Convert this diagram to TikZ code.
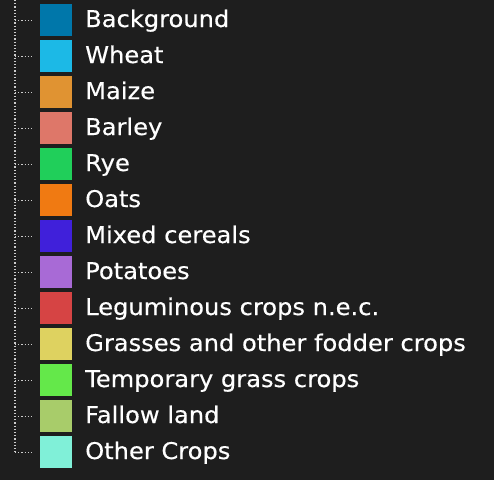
\documentclass[tikz,border=0pt]{standalone}
\usepackage{fontspec}
\setmainfont{DejaVu Sans}[FakeStretch=1.05,FakeBold=0.4]
\definecolor{bgc}{HTML}{1E1E1E}
\definecolor{c1}{HTML}{0077AA}
\definecolor{c2}{HTML}{1CB9E6}
\definecolor{c3}{HTML}{E09332}
\definecolor{c4}{HTML}{DE7769}
\definecolor{c5}{HTML}{20CF5A}
\definecolor{c6}{HTML}{F07A12}
\definecolor{c7}{HTML}{4020DA}
\definecolor{c8}{HTML}{A86AD6}
\definecolor{c9}{HTML}{D64444}
\definecolor{c10}{HTML}{DED260}
\definecolor{c11}{HTML}{64E84A}
\definecolor{c12}{HTML}{A8CC6A}
\definecolor{c13}{HTML}{80F0D8}
\tikzset{
  x=1pt,y=1pt,
  swatch/.style={minimum width=32pt,minimum height=32pt,inner sep=0pt,outer sep=0pt,draw=none},
  lbl/.style={anchor=base west,inner sep=0pt,text=white,font=\fontsize{23}{26}\selectfont},
  tree/.style={draw=white!80!black,line width=1.3pt,dash pattern=on 1.2pt off 2pt}
}
\begin{document}
\begin{tikzpicture}
\fill[bgc] (0,0) rectangle (494,-480);
\useasboundingbox (0,0) rectangle (494,-480);
\coordinate (top) at (15,0);
\foreach \n/\c/\t [count=\i from 0] in {
  a/c1/Background, b/c2/Wheat, c/c3/Maize, d/c4/Barley, e/c5/Rye, f/c6/Oats,
  g/c7/Mixed cereals, h/c8/Potatoes, k/c9/Leguminous crops n.e.c.,
  l/c10/Grasses and other fodder crops, m/c11/Temporary grass crops,
  o/c12/Fallow land, p/c13/Other Crops}{
  \node[swatch,fill=\c] (s\n) at (56,-20-36*\i) {};
  \node[lbl] (t\n) at (85,-27-36*\i) {\t};
  \coordinate (j\n) at (15,-20.5-36*\i);
  \coordinate (e\n) at (32,-20.5-36*\i);
  \draw[tree] (j\n) -- (e\n);
}
\draw[tree] (top) -- (jp);
\end{tikzpicture}
\end{document}
